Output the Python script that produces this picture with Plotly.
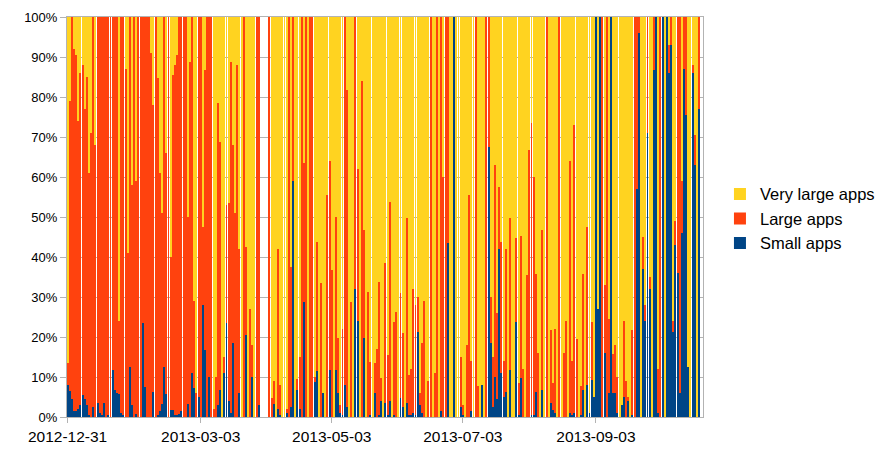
"""
Daily share of app sizes, 100% stacked bars (Plotly)
"""

import plotly.graph_objects as go
import pandas as pd

START_DATE = "2012-12-31"
TICK_DATES = ["2012-12-31", "2013-03-03", "2013-05-03", "2013-07-03", "2013-09-03"]

# percent of apps per day (None = no data that day)
small_apps = [
    8, 6.5, 4.5, 1.5, 1.5, 2, 3, 5.5, 4.5, 3,
    0.5, 0, 2.5, 0, 3.5, 1, 0.5, 3.5, 0, 0.5,
    0, 11.7, 6.7, 6, 5.7, 1, 0.5, 0, 0, 12.6,
    3, 0, 0.7, 0, 0, 23.5, 7.6, 0, 0, 0,
    6.3, 0, 0.5, 1.5, 3.3, 12.6, 5.7, 0, 1.8, 1.8,
    0.5, 0.5, 0.8, 1.5, 0, 0, 3.3, 0, 11, 7.3,
    0, 5, 0, 28, 16.7, 0, 10, 0, 0, 0,
    3, 6.7, 0, 11, 23.5, 4, 1, 18.5, 0, 0,
    6, 0, 0, 20.5, 0, 0, 10, 0, 0, 3,
    None, None, None, None, 0, 0, 3.3, 0, 2, 0.5,
    0, 0, 1, 0, 2.5, 59, 0, 6.7, 2, 0,
    28.8, 0, 0, 0, 0, 8.8, 11.5, 0, 0, 6,
    0, 0, 11.7, 0, 0, 11.7, 6, 1, 0.5, 8,
    2.5, 0, 0, 0, 32, 24, 0, 0, 19.7, 0,
    0, 0.5, 0, 6, 0, 0.5, 4, 0, 3.5, 0.5,
    4, 0, 0.5, 0, 0, 4.8, 2.5, 0, 3.5, 0.5,
    0.5, 1, 0.5, 21.3, 3, 1, 0, 0, 0, 0,
    0, 0, 0, 0, 1.5, 0, 0, 43.5, 0, 0,
    100, 0, 0, 2.5, 0.5, 0, 0, 0, 1.5, 0,
    0, 0, 0, 8, 0, 0, 67.5, 18.5, 2.5, 10,
    4.5, 42, 11, 5, 6.3, 0, 11.7, 0, 0, 23.8,
    0.5, 9.7, 0, 0, 0, 0, 0.5, 0.5, 6.3, 0,
    0, 6.7, 0, 0, 0, 3.5, 1.8, 1, 0, 0,
    0, 0, 0, 0, 1, 0.5, 1, 0, 0, 0.5,
    6.7, 0, 8, 1, 9.3, 5, 100, 27, 100, 0,
    16, 0, 6, 100, 6, 6, 1, 0, 3, 5,
    0, 4, 0, 0.5, 0, 57, 96, 0, 37, 24,
    71, 32, 0, 86.7, 100, 1, 0, 100, 0, 100,
    86, 93, 21.3, 43, 36, 6, 46, 87, 75.5, 12.6,
    0, 86, 63, 0, 77,
]

large_apps = [
    5.5, 72.5, 95.5, 90.5, 89, 72, 83, 82.5, 72.5, 82,
    60.5, 71, 97.5, 68, 96.5, 99, 99.5, 96.5, 100, 99.5,
    100, 88.3, 93.3, 94, 18.3, 99, 99.5, 87, 41, 87.4,
    55, 100, 58.3, 100, 100, 76.5, 92.4, 100, 100, 91,
    71.7, 100, 84.2, 59.5, 47.7, 87.4, 60.3, 100, 38.2, 83.7,
    87.5, 90, 99.2, 98.5, 100, 100, 46.7, 88.8, 89, 21.7,
    6, 95, 100, 19.5, 70, 100, 90, 100, 2, 10,
    75.5, 62.1, 0, 4, 29.5, 49.5, 87.8, 49.5, 51, 88,
    36, 0, 100, 22, 0, 27, 8, 0, 100, 97,
    None, None, None, None, 100, 4.7, 5.7, 0, 40, 7.5,
    0, 0, 1, 100, 35.1, 41, 0, 2.8, 13, 100,
    34.7, 100, 0, 100, 100, 1.2, 32.3, 0, 33.4, 0,
    0, 55.5, 52.3, 36.7, 0, 38.3, 13.7, 2, 21.5, 92,
    79.2, 0, 28.8, 0, 68, 38, 0, 84, 27, 0,
    31.3, 13.3, 0, 7.5, 17, 33.3, 5.7, 0, 34.9, 15,
    49.8, 0, 23.3, 26.3, 0, 26.1, 18.5, 0, 46.2, 10,
    11.5, 31, 27.5, 8.7, 3, 17.5, 29, 0, 9, 100,
    0, 11, 100, 0, 98.5, 60, 100, 56.5, 0, 0,
    0, 0, 0, 12.5, 2.5, 0, 18, 55.5, 12.5, 0,
    100, 7.7, 0, 0, 0, 100, 32.5, 11.5, 12.5, 53,
    21.5, 15.6, 32.8, 9, 35.7, 0, 38, 0, 0, 20.9,
    8, 35.6, 12, 0, 35.5, 66.7, 72.9, 59.5, 29.5, 16,
    0, 40, 0, 100, 0, 18.3, 6.7, 21, 0, 100,
    0, 16, 24, 0, 63, 13.5, 72, 19.5, 0, 7.2,
    29.1, 0, 39.6, 0, 14.5, 0, 0, 0, 0, 100,
    17, 100, 18.6, 0, 9.7, 12, 9, 0, 0, 19,
    9, 1, 0, 21.2, 100, 43, 4, 0, 8, 4,
    29, 3, 0, 13.3, 0, 11, 100, 0, 0, 0,
    7, 7, 2.7, 6, 64, 94, 13, 13, 24.5, 0,
    0, 2, 7.5, 0, 23,
]

very_large_apps = [
    86.5, 21, 0, 8, 9.5, 26, 14, 12, 23, 15,
    39, 29, 0, 32, 0, 0, 0, 0, 0, 0,
    0, 0, 0, 0, 76, 0, 0, 13, 59, 0,
    42, 0, 41, 0, 0, 0, 0, 0, 0, 9,
    22, 0, 15.3, 39, 49, 0, 34, 0, 60, 14.5,
    12, 9.5, 0, 0, 0, 0, 50, 11.2, 0, 71,
    94, 0, 0, 52.5, 13.3, 0, 0, 0, 98, 90,
    21.5, 31.2, 100, 85, 47, 46.5, 11.2, 32, 49, 12,
    58, 100, 0, 57.5, 100, 73, 82, 100, 0, 0,
    None, None, None, None, 0, 95.3, 91, 100, 58, 92,
    100, 100, 98, 0, 62.4, 0, 100, 90.5, 85, 0,
    36.5, 0, 100, 0, 0, 90, 56.2, 100, 66.6, 94,
    100, 44.5, 36, 63.3, 100, 50, 80.3, 97, 78, 0,
    18.3, 100, 71.2, 100, 0, 38, 100, 16, 53.3, 100,
    68.7, 86.2, 100, 86.5, 83, 66.2, 90.3, 100, 61.6, 84.5,
    46.2, 100, 76.2, 73.7, 100, 69.1, 79, 100, 50.3, 89.5,
    88, 68, 72, 70, 94, 81.5, 71, 100, 91, 0,
    100, 89, 0, 100, 0, 40, 0, 0, 100, 100,
    0, 100, 100, 85, 97, 100, 82, 44.5, 86, 100,
    0, 92.3, 100, 92, 100, 0, 0, 70, 85, 37,
    74, 42.4, 56.2, 86, 58, 100, 50.3, 100, 100, 55.3,
    91.5, 54.7, 88, 100, 64.5, 33.3, 26.6, 40, 64.2, 84,
    100, 53.3, 100, 0, 100, 78.2, 91.5, 78, 100, 0,
    100, 84, 76, 100, 36, 86, 27, 80.5, 100, 92.3,
    64.2, 100, 52.4, 99, 76.2, 95, 0, 73, 0, 0,
    67, 0, 75.4, 0, 84.3, 82, 90, 100, 97, 76,
    91, 95, 100, 78.3, 0, 0, 0, 100, 55, 72,
    0, 65, 100, 0, 0, 88, 0, 0, 100, 0,
    7, 0, 76, 51, 0, 0, 41, 0, 0, 87.4,
    100, 12, 29.5, 100, 0,
]

dates = pd.date_range(START_DATE, periods=len(small_apps), freq="D")

fig = go.Figure()

# bottom to top: small, large, very large
fig.add_trace(go.Bar(x=dates, y=small_apps, name="Small apps",
                     marker=dict(color="#004586", line_width=0)))
fig.add_trace(go.Bar(x=dates, y=large_apps, name="Large apps",
                     marker=dict(color="#ff420e", line_width=0)))
fig.add_trace(go.Bar(x=dates, y=very_large_apps, name="Very large apps",
                     marker=dict(color="#ffd320", line_width=0)))

fig.update_layout(
    width=878,
    height=452,
    barmode="stack",
    bargap=0.55,
    plot_bgcolor="white",
    paper_bgcolor="white",
    margin=dict(l=67, r=175, t=17, b=35),
    font=dict(family="Liberation Sans, Arial, sans-serif", size=13, color="#000000"),
    legend=dict(
        xref="container", yref="container",
        x=0.82, y=0.516, xanchor="left", yanchor="middle",
        font=dict(size=16.5),
        itemwidth=30,
    ),
    xaxis=dict(
        type="date",
        range=["2012-12-30 18:00", "2013-10-22 20:00"],
        tickvals=TICK_DATES,
        tickformat="%Y-%m-%d",
        tickfont=dict(size=15.5),
        ticks="outside",
        ticklen=5,
        tickcolor="#b3b3b3",
        showgrid=False,
        showline=True,
        linecolor="#b3b3b3",
        linewidth=1,
        mirror=True,
        automargin=False,
    ),
    yaxis=dict(
        range=[0, 100],
        dtick=10,
        ticksuffix="%",
        ticks="outside",
        ticklen=6,
        tickcolor="#b3b3b3",
        showgrid=True,
        gridcolor="#b3b3b3",
        gridwidth=1,
        showline=True,
        linecolor="#b3b3b3",
        linewidth=1,
        mirror=True,
        zeroline=False,
        automargin=False,
    ),
)

# drop the default page margin so the chart sits at the window origin
fig.write_html("out.html", config={"displayModeBar": False},
               post_script="document.body.style.margin='0';")
